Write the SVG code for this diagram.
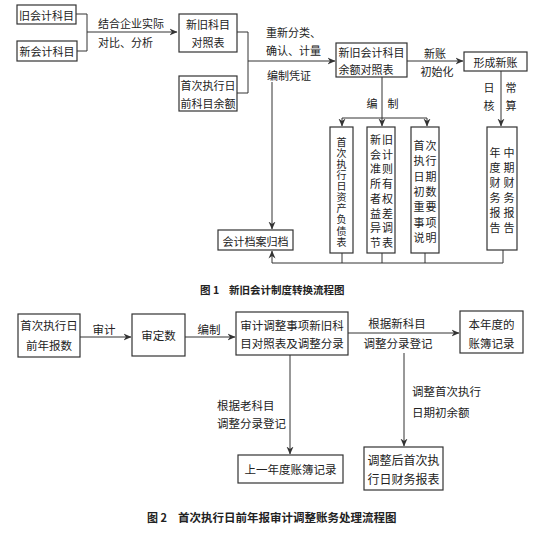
<svg xmlns="http://www.w3.org/2000/svg" width="536" height="535" viewBox="0 0 536 535">
<style>
text{font-family:"Noto Sans CJK SC","Noto Sans CJK TC",sans-serif;fill:#222;font-size:11px;dominant-baseline:central;text-anchor:middle}
.box{fill:#fff;stroke:#333;stroke-width:1.2}
.ln{fill:none;stroke:#333;stroke-width:1}
.lab{text-anchor:start}
.f2{font-size:11.5px}
.vt{writing-mode:vertical-rl;text-anchor:start;font-size:10px;letter-spacing:1.1px}
.cap{font-weight:bold;text-anchor:start;font-size:10.5px}
</style>
<defs>
<marker id="ah" viewBox="0 0 8 8" refX="7.5" refY="4" markerWidth="8" markerHeight="8" markerUnits="userSpaceOnUse" orient="auto">
<path d="M0,0.5 L8,4 L0,7.5 L2.5,4 z" fill="#333"/>
</marker>
</defs>
<rect width="536" height="535" fill="#fff"/>

<g id="connectors">
<path class="ln" d="M76,14 H87 V51 H77"/>
<path class="ln" d="M87,32 H177" marker-end="url(#ah)"/>
<path class="ln" d="M237,32 H248 V93 H237"/>
<path class="ln" d="M248,61 H335" marker-end="url(#ah)"/>
<path class="ln" d="M407,61 H463" marker-end="url(#ah)"/>
<path class="ln" d="M501,71 V126" marker-end="url(#ah)"/>
<path class="ln" d="M382,77 V126" marker-end="url(#ah)"/>
<path class="ln" d="M342,118 H427"/>
<path class="ln" d="M342,118 V126" marker-end="url(#ah)"/>
<path class="ln" d="M427,118 V126" marker-end="url(#ah)"/>
<path class="ln" d="M272,82 V229" marker-end="url(#ah)"/>
<path class="ln" d="M342,253 V263 M382,253 V263 M425,253 V263 M503,250 V263 M272,263 H503"/>
<path class="ln" d="M272,263 V251" marker-end="url(#ah)"/>
<path class="ln" d="M80,337 H131" marker-end="url(#ah)"/>
<path class="ln" d="M185,337 H235" marker-end="url(#ah)"/>
<path class="ln" d="M348,333 H459" marker-end="url(#ah)"/>
<path class="ln" d="M290,355 V454" marker-end="url(#ah)"/>
<path class="ln" d="M404,353 V446" marker-end="url(#ah)"/>
</g>

<g id="labels">
<text class="lab" x="98" y="23">结合企业实际</text>
<text class="lab" x="98" y="42">对比、分析</text>
<text class="lab" x="266" y="32">重新分类、</text>
<text class="lab" x="266" y="50">确认、计量</text>
<text class="lab" x="267" y="75">编制凭证</text>
<text x="435" y="53">新账</text>
<text x="437" y="71">初始化</text>
<text x="489" y="87">日</text>
<text x="511" y="87">常</text>
<text x="489" y="105">核</text>
<text x="511" y="105">算</text>
<text x="372" y="103">编</text>
<text x="393" y="103">制</text>
<text class="f2" x="104" y="329">审计</text>
<text class="f2" x="209" y="329">编制</text>
<text class="f2" x="397" y="323">根据新科目</text>
<text class="f2" x="398" y="343">调整分录登记</text>
<text class="f2 lab" x="217" y="405">根据老科目</text>
<text class="f2 lab" x="217" y="423">调整分录登记</text>
<text class="f2 lab" x="412" y="391">调整首次执行</text>
<text class="f2 lab" x="412" y="412">日期初余额</text>
</g>

<g id="n-old"><rect class="box" x="17" y="5" width="59" height="19"/><text x="46.5" y="15">旧会计科目</text></g>
<g id="n-new"><rect class="box" x="17" y="41" width="60" height="20"/><text x="47" y="51">新会计科目</text></g>
<g id="n-map"><rect class="box" x="179" y="14" width="58" height="38"/><text x="208" y="24">新旧科目</text><text x="208" y="42">对照表</text></g>
<g id="n-bal"><rect class="box" x="179" y="76" width="58" height="35"/><text x="208" y="85">首次执行日</text><text x="208" y="103">前科目余额</text></g>
<g id="n-balmap"><rect class="box" x="336" y="43" width="71" height="34"/><text x="371.5" y="52">新旧会计科目</text><text x="366" y="69">余额对照表</text></g>
<g id="n-newacc"><rect class="box" x="464" y="52" width="63" height="19"/><text x="495.5" y="62">形成新账</text></g>
<g id="n-bs"><rect class="box" x="330" y="127" width="23" height="126"/>
<text class="vt" x="341.5" y="137">首次执行日资产负债表</text></g>
<g id="n-eq"><rect class="box" x="367" y="127" width="28" height="126"/>
<text><tspan x="375.5" y="139">新</tspan><tspan x="387.5" y="139">旧</tspan><tspan x="375.5" y="153.7">会</tspan><tspan x="387.5" y="153.7">计</tspan><tspan x="375.5" y="168.4">准</tspan><tspan x="387.5" y="168.4">则</tspan><tspan x="375.5" y="183.1">所</tspan><tspan x="387.5" y="183.1">有</tspan><tspan x="375.5" y="197.8">者</tspan><tspan x="387.5" y="197.8">权</tspan><tspan x="375.5" y="212.5">益</tspan><tspan x="387.5" y="212.5">差</tspan><tspan x="375.5" y="227.2">异</tspan><tspan x="387.5" y="227.2">调</tspan><tspan x="375.5" y="241.9">节</tspan><tspan x="387.5" y="241.9">表</tspan></text></g>
<g id="n-notes"><rect class="box" x="411" y="127" width="28" height="126"/>
<text><tspan x="419" y="145">首</tspan><tspan x="431" y="145">次</tspan><tspan x="419" y="160.3">执</tspan><tspan x="431" y="160.3">行</tspan><tspan x="419" y="175.6">日</tspan><tspan x="431" y="175.6">期</tspan><tspan x="419" y="190.9">初</tspan><tspan x="431" y="190.9">数</tspan><tspan x="419" y="206.2">重</tspan><tspan x="431" y="206.2">要</tspan><tspan x="419" y="221.5">事</tspan><tspan x="431" y="221.5">项</tspan><tspan x="419" y="236.8">说</tspan><tspan x="431" y="236.8">明</tspan></text></g>
<g id="n-report"><rect class="box" x="487" y="127" width="30" height="123"/>
<text><tspan x="495" y="152">年</tspan><tspan x="495" y="167">度</tspan><tspan x="495" y="182">财</tspan><tspan x="495" y="197">务</tspan><tspan x="495" y="212">报</tspan><tspan x="495" y="227">告</tspan></text>
<text><tspan x="509" y="152">中</tspan><tspan x="509" y="167">期</tspan><tspan x="509" y="182">财</tspan><tspan x="509" y="197">务</tspan><tspan x="509" y="212">报</tspan><tspan x="509" y="227">告</tspan></text></g>
<g id="n-archive"><rect class="box" x="218" y="230" width="75" height="20"/><text x="255.5" y="240.5">会计档案归档</text></g>
<text class="cap" x="200" y="289">图 1</text>
<text class="cap" x="229" y="289">新旧会计制度转换流程图</text>

<g id="n-pre"><rect class="box" x="18" y="314" width="62" height="43"/><text class="f2" x="49" y="325">首次执行日</text><text class="f2" x="49" y="345">前年报数</text></g>
<g id="n-aud"><rect class="box" x="132" y="314" width="53" height="42"/><text class="f2" x="158.5" y="335">审定数</text></g>
<g id="n-adj"><rect class="box" x="236" y="312" width="112" height="43"/><text class="f2" x="292" y="325">审计调整事项新旧科</text><text class="f2" x="292" y="343">目对照表及调整分录</text></g>
<g id="n-cur"><rect class="box" x="460" y="311" width="63" height="42"/><text class="f2" x="491.5" y="324">本年度的</text><text class="f2" x="491.5" y="343">账簿记录</text></g>
<g id="n-prev"><rect class="box" x="238" y="455" width="105" height="28"/><text class="f2" x="290.5" y="469">上一年度账簿记录</text></g>
<g id="n-fin"><rect class="box" x="364" y="447" width="79" height="43"/><text x="403.5" y="459" style="font-size:12px">调整后首次执</text><text x="403.5" y="478" style="font-size:12px">行日财务报表</text></g>
<text class="cap" x="147" y="517" style="font-size:11px">图 2</text>
<text class="cap" x="178" y="517" style="font-size:11.5px">首次执行日前年报审计调整账务处理流程图</text>
</svg>
